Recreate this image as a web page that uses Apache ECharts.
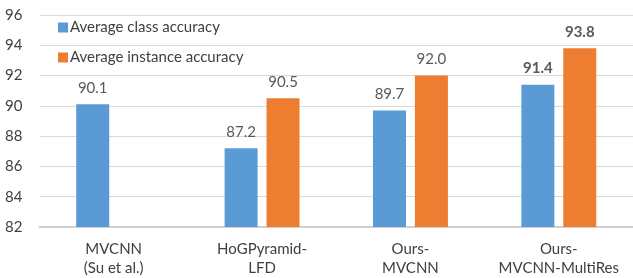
<!DOCTYPE html>
<html>
<head>
<meta charset="utf-8">
<script src="https://cdn.jsdelivr.net/npm/echarts@6/dist/echarts.min.js"></script>
<style>html,body{margin:0;padding:0;background:#fff}#c{width:633px;height:278px}</style>
</head>
<body>
<div id="c"></div>
<script>
const categories = ['MVCNN\n(Su et al.)', 'HoGPyramid-\nLFD', 'Ours-\nMVCNN', 'Ours-\nMVCNN-MultiRes'];
const classAccuracy = [90.1, 87.2, 89.7, 91.4];
const instanceAccuracy = [null, 90.5, 92.0, 93.8];
const seriesNames = ['Average class accuracy', 'Average instance accuracy'];
const yTicks = { min: 82, max: 96, interval: 2 };
const boldIndex = 3;

const font = 'Lato, "Open Sans", sans-serif';
function mkData(arr) {
  return arr.map((v, i) => i === boldIndex && v != null
    ? { value: v, label: { fontWeight: 'bold' } }
    : v);
}
const chart = echarts.init(document.getElementById('c'), null, { renderer: 'canvas' });
chart.setOption({
  animation: false,
  textStyle: { fontFamily: font },
  grid: { left: 39.5, top: 15, width: 596, height: 213, containLabel: false },
  legend: {
    orient: 'vertical', left: 58, top: 20, padding: 0, itemWidth: 10, itemHeight: 10, itemGap: 15,
    icon: 'rect',
    textStyle: { fontFamily: font, fontSize: 15, color: '#404040', padding: [0, 0, 0, -3] },
    data: seriesNames
  },
  xAxis: {
    type: 'category', data: categories,
    axisLine: { show: true, lineStyle: { color: '#d0d0d0', width: 2 } },
    axisTick: { show: false },
    axisLabel: { fontFamily: font, fontSize: 15, color: '#404040', margin: 13, lineHeight: 19, interval: 0 }
  },
  yAxis: {
    type: 'value', min: yTicks.min, max: yTicks.max, interval: yTicks.interval,
    axisLine: { show: false }, axisTick: { show: false },
    splitLine: { lineStyle: { color: '#d9d9d9', width: 1 } },
    axisLabel: { fontFamily: font, fontSize: 15, color: '#404040', margin: 17 }
  },
  series: [
    {
      name: seriesNames[0], type: 'bar', data: mkData(classAccuracy),
      barWidth: 33, barGap: '27%',
      itemStyle: { color: '#5B9BD5' },
      label: { show: true, position: 'top', distance: 9, fontFamily: font, fontSize: 15, color: '#595959', formatter: p => p.value.toFixed(1) }
    },
    {
      name: seriesNames[1], type: 'bar', data: mkData(instanceAccuracy),
      barWidth: 33, barGap: '27%',
      itemStyle: { color: '#ED7D31' },
      label: { show: true, position: 'top', distance: 9, fontFamily: font, fontSize: 15, color: '#595959', formatter: p => p.value.toFixed(1) }
    }
  ]
});
</script>
</body>
</html>
